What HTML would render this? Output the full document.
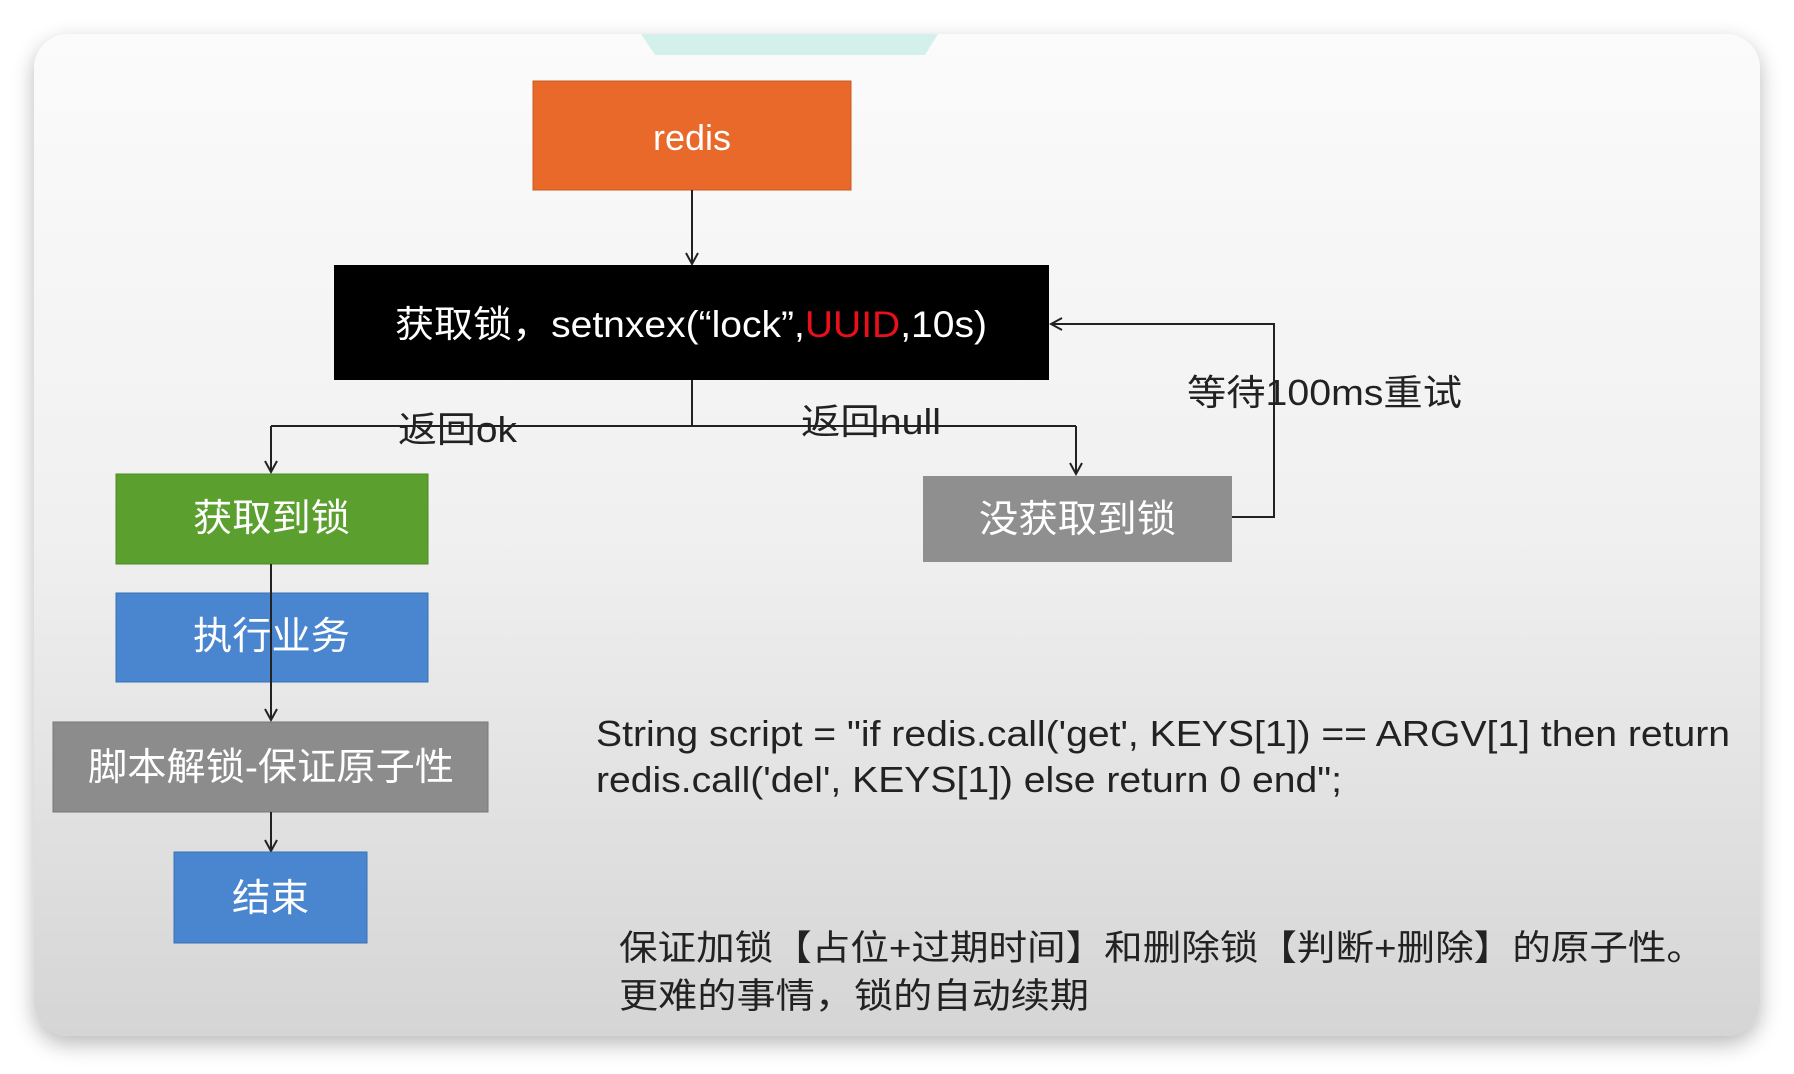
<!DOCTYPE html>
<html><head><meta charset="utf-8"><style>
html,body{margin:0;padding:0;background:#fff;width:1794px;height:1074px;overflow:hidden}
.card{position:absolute;left:34px;top:34px;width:1726px;height:1002px;border-radius:34px;background:linear-gradient(#fbfbfb,#f0f0f0 50%,#d5d5d5);box-shadow:0 8px 22px rgba(0,0,0,.28)}
svg{position:absolute;left:0;top:0}
text{font-family:"Liberation Sans","Noto Sans CJK SC",sans-serif}
</style></head><body>
<div class="card"></div>
<svg width="1794" height="1074" viewBox="0 0 1794 1074">
<defs><marker id="a" markerWidth="14" markerHeight="14" refX="12" refY="7" orient="auto" markerUnits="userSpaceOnUse"><path d="M1,1 L12,7 L1,13" fill="none" stroke="#222" stroke-width="2"/></marker></defs>
<polygon points="641,34 938,34 925,55 655,55" fill="#d3f1ea"/>
<rect x="533" y="81" width="318" height="109" fill="#e8692a" stroke="#c85a20"/>
<text x="692" y="150" font-size="36" fill="#fff" text-anchor="middle">redis</text>
<line x1="692" y1="190" x2="692" y2="264" stroke="#222" stroke-width="2" marker-end="url(#a)"/>
<rect x="334" y="265" width="715" height="115" fill="#000"/>
<text x="395" y="337" font-size="37" fill="#fff" textLength="592" lengthAdjust="spacingAndGlyphs">获取锁，setnxex(“lock”,<tspan fill="#e8101a">UUID</tspan>,10s)</text>
<path d="M692,380 V426 M271,426 H1076" stroke="#222" stroke-width="2" fill="none"/>
<line x1="271" y1="426" x2="271" y2="472" stroke="#222" stroke-width="2" marker-end="url(#a)"/>
<line x1="1076" y1="426" x2="1076" y2="474" stroke="#222" stroke-width="2" marker-end="url(#a)"/>
<text x="398" y="442" font-size="36" fill="#222" textLength="119" lengthAdjust="spacingAndGlyphs">返回ok</text>
<text x="801" y="434" font-size="36" fill="#222" textLength="140" lengthAdjust="spacingAndGlyphs">返回null</text>
<rect x="116" y="474" width="312" height="90" fill="#5ba02f" stroke="#4a8a25"/>
<text x="193" y="531" font-size="38" fill="#fff" textLength="157" lengthAdjust="spacingAndGlyphs">获取到锁</text>
<rect x="116" y="593" width="312" height="89" fill="#4a86d0" stroke="#3a70b5"/>
<text x="193" y="649" font-size="38" fill="#fff" textLength="157" lengthAdjust="spacingAndGlyphs">执行业务</text>
<line x1="271" y1="564" x2="271" y2="720" stroke="#222" stroke-width="2" marker-end="url(#a)"/>
<rect x="53" y="722" width="435" height="90" fill="#8c8c8c" stroke="#777"/>
<text x="88" y="780" font-size="38" fill="#fff" textLength="366" lengthAdjust="spacingAndGlyphs">脚本解锁-保证原子性</text>
<line x1="271" y1="812" x2="271" y2="851" stroke="#222" stroke-width="2" marker-end="url(#a)"/>
<rect x="174" y="852" width="193" height="91" fill="#4a86d0" stroke="#3a70b5"/>
<text x="232" y="911" font-size="38" fill="#fff" textLength="77" lengthAdjust="spacingAndGlyphs">结束</text>
<rect x="923" y="476" width="309" height="86" fill="#8f8f8f"/>
<text x="979" y="532" font-size="38" fill="#fff" textLength="197" lengthAdjust="spacingAndGlyphs">没获取到锁</text>
<path d="M1232,517 H1274 V324 H1051" stroke="#222" stroke-width="2" fill="none" marker-end="url(#a)"/>
<text x="1187" y="405" font-size="36" fill="#222" textLength="275" lengthAdjust="spacingAndGlyphs">等待100ms重试</text>
<text x="596" y="746" font-size="36" fill="#222" textLength="1134" lengthAdjust="spacingAndGlyphs">String script = "if redis.call('get', KEYS[1]) == ARGV[1] then return</text>
<text x="596" y="792" font-size="36" fill="#222" textLength="746" lengthAdjust="spacingAndGlyphs">redis.call('del', KEYS[1]) else return 0 end";</text>
<text x="619" y="960" font-size="35" fill="#222" textLength="1086" lengthAdjust="spacingAndGlyphs">保证加锁【占位+过期时间】和删除锁【判断+删除】的原子性。</text>
<text x="619" y="1008" font-size="35" fill="#222" textLength="470" lengthAdjust="spacingAndGlyphs">更难的事情，锁的自动续期</text>
</svg>
</body></html>
